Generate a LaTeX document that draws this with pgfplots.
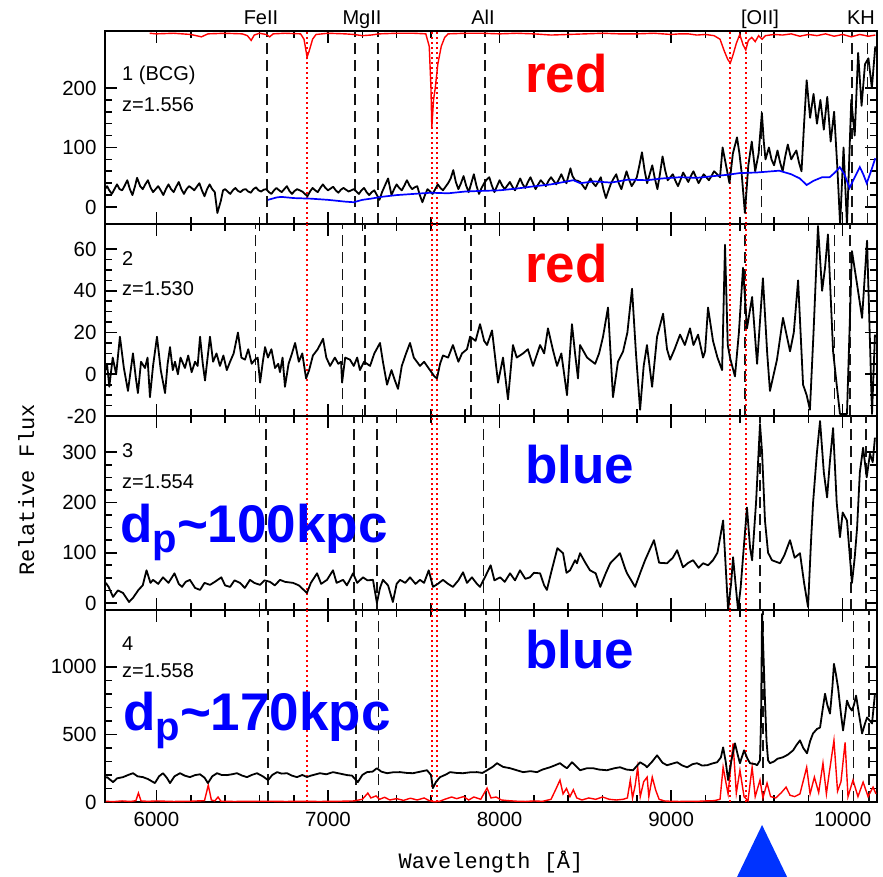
\documentclass[border=0pt]{standalone}
\usepackage{pgfplots}
\pgfplotsset{compat=1.18}
\usepackage{fontspec}
\setmainfont{Liberation Sans}
\newfontfamily\monofont{Liberation Mono}
\definecolor{triblue}{RGB}{0,51,255}
\definecolor{dashgray}{RGB}{20,20,20}
\newcommand{\vl}[4]{\addplot[#1] coordinates {(#2,#3) (#2,#4)};}
\pgfplotsset{
  panel/.style={
    scale only axis, width=772pt,
    xmin=5700, xmax=10200,
    xtick={6000,7000,8000,9000,10000},
    minor x tick num=4,
    major tick length=12pt, minor tick length=7pt,
    tick align=inside,
    every tick/.style={black, line width=1.6pt},
    axis line style={line width=2pt},
    tick label style={font=\fontsize{20.5}{23}\selectfont},
    yticklabel style={xshift=-5pt},
    xticklabel style={yshift=-7pt},
    /pgf/number format/assume math mode=true,
    /pgf/number format/set thousands separator={},
    scaled ticks=false,
    anchor=north west,
  },
  spec/.style={black, line width=1.8pt, no markers, line join=round},
  dsh/.style={dashgray, line width=1.7pt, dash pattern=on 11pt off 6pt},
  dot/.style={red, line width=1.5pt, dash pattern=on 2.5pt off 2.5pt},
}
\begin{document}
\begin{tikzpicture}
\useasboundingbox (0pt,0pt) rectangle (883pt,-876pt);

% ---------------- Panel 1 ----------------
\begin{axis}[panel, at={(105pt,-31pt)}, height=193pt, ymin=-28.6, ymax=295.8,
  ytick={0,100,200}, minor y tick num=4, xticklabels={}]
\vl{dsh}{6646}{-28.6}{295.8}
\vl{dsh}{7157}{-28.6}{295.8}
\vl{dsh}{7290}{-28.6}{295.8}
\vl{dsh}{7913}{-28.6}{295.8}
\vl{dsh}{9526}{-28.6}{295.8}
\vl{dsh}{10055}{-28.6}{295.8}
\vl{dsh}{10145}{-28.6}{295.8}
\vl{dot}{6878}{-28.6}{295.8}
\vl{dot}{7605}{-28.6}{295.8}
\vl{dot}{7635}{-28.6}{295.8}
\vl{dot}{9343}{-28.6}{295.8}
\vl{dot}{9436}{-28.6}{295.8}
\addplot[red, line width=1.4pt, no markers] coordinates {
(5960,292)(6000,291)(6100,292)(6200,290)(6262,286)(6300,291)(6400,292)(6500,291)(6530,288)(6552,280)(6570,289)(6600,292)(6640,290)(6660,286)(6680,291)(6750,292)(6840,291)(6860,282)(6878,252)(6890,262)(6910,282)(6930,290)(7000,292)(7100,291)(7150,290)(7200,288)(7250,289)(7300,291)(7400,292)(7500,292)(7570,291)(7590,270)(7600,200)(7605,134)(7615,180)(7625,200)(7640,240)(7660,270)(7680,285)(7700,291)(7800,292)(7900,292)(8000,291)(8100,292)(8200,291)(8300,289)(8400,290)(8500,291)(8600,292)(8700,291)(8800,291)(8900,292)(9000,290)(9050,291)(9100,291)(9150,289)(9200,290)(9250,288)(9285,282)(9310,262)(9330,248)(9345,242)(9360,255)(9380,275)(9400,290)(9420,272)(9435,264)(9450,280)(9470,285)(9490,278)(9510,288)(9530,282)(9550,288)(9600,290)(9650,289)(9700,291)(9750,287)(9800,290)(9850,288)(9900,291)(9950,287)(10000,290)(10050,286)(10100,290)(10150,287)(10190,289)};
\addplot[spec] coordinates {
(5700,30)(5712,35)(5725,28)(5740,22)(5755,30)(5770,38)(5785,30)(5800,28)(5815,36)(5830,45)(5845,30)(5860,20)(5875,35)(5887,49)(5905,35)(5920,30)(5935,38)(5950,45)(5965,33)(5980,25)(5995,30)(6010,35)(6025,28)(6040,20)(6055,30)(6070,38)(6085,30)(6100,25)(6115,34)(6130,42)(6145,30)(6160,22)(6175,30)(6190,35)(6205,32)(6220,28)(6235,34)(6250,40)(6265,28)(6280,18)(6295,30)(6310,38)(6325,30)(6340,25)(6355,-10)(6375,10)(6388,28)(6400,30)(6415,26)(6430,22)(6445,28)(6460,32)(6475,27)(6490,25)(6505,29)(6520,30)(6535,26)(6550,24)(6565,30)(6580,33)(6595,28)(6610,26)(6625,29)(6640,30)(6655,25)(6670,22)(6685,28)(6700,32)(6715,28)(6730,25)(6745,30)(6760,35)(6775,27)(6790,22)(6805,27)(6820,30)(6835,28)(6850,26)(6865,22)(6880,18)(6895,26)(6910,32)(6925,28)(6940,25)(6955,32)(6970,38)(6985,32)(7000,28)(7015,31)(7030,34)(7045,28)(7060,24)(7075,29)(7090,32)(7105,29)(7120,26)(7135,28)(7150,30)(7165,26)(7180,22)(7195,28)(7210,32)(7225,25)(7240,20)(7255,25)(7270,28)(7285,20)(7300,12)(7315,25)(7330,35)(7350,48)(7370,20)(7385,30)(7400,38)(7415,32)(7430,28)(7445,36)(7460,45)(7475,36)(7490,30)(7505,33)(7520,35)(7535,20)(7550,8)(7565,20)(7580,30)(7595,26)(7610,22)(7625,30)(7640,38)(7655,32)(7670,28)(7685,34)(7700,40)(7715,48)(7730,62)(7745,42)(7760,30)(7775,40)(7790,52)(7805,36)(7820,25)(7835,40)(7850,55)(7865,36)(7880,22)(7895,32)(7910,40)(7925,46)(7940,50)(7955,36)(7970,25)(7985,35)(8000,45)(8015,36)(8030,30)(8045,36)(8060,42)(8075,34)(8090,28)(8105,38)(8120,48)(8135,38)(8150,32)(8165,42)(8180,50)(8195,40)(8210,30)(8225,38)(8240,45)(8255,40)(8270,35)(8285,44)(8300,50)(8315,44)(8330,38)(8345,46)(8360,55)(8375,45)(8390,40)(8413,65)(8425,52)(8440,45)(8455,44)(8470,42)(8485,36)(8500,30)(8515,40)(8530,48)(8545,40)(8560,35)(8575,42)(8590,50)(8605,30)(8620,15)(8635,28)(8650,40)(8665,48)(8680,55)(8695,40)(8710,30)(8725,45)(8740,60)(8755,46)(8770,35)(8785,42)(8800,50)(8815,70)(8830,92)(8845,62)(8860,40)(8875,55)(8890,70)(8905,48)(8920,30)(8935,56)(8950,85)(8965,62)(8980,45)(8995,50)(9010,55)(9025,44)(9040,35)(9055,46)(9070,58)(9085,50)(9100,42)(9115,52)(9130,60)(9145,50)(9160,40)(9175,48)(9190,55)(9205,50)(9220,45)(9235,52)(9250,60)(9268,55)(9285,50)(9300,100)(9320,70)(9340,40)(9360,90)(9384,117)(9398,90)(9410,60)(9430,-10)(9450,70)(9470,110)(9490,60)(9510,90)(9529,158)(9540,110)(9550,80)(9570,100)(9585,80)(9600,70)(9620,95)(9635,75)(9650,60)(9665,85)(9680,105)(9700,80)(9715,88)(9730,95)(9745,75)(9760,60)(9775,140)(9790,213)(9810,150)(9830,190)(9850,140)(9870,180)(9890,130)(9910,185)(9930,110)(9950,160)(9970,60)(9985,-30)(10005,100)(10025,-30)(10050,180)(10070,120)(10090,259)(10110,170)(10130,240)(10150,250)(10170,200)(10190,270)};
\addplot[blue, line width=1.7pt, no markers] coordinates {
(6650,12)(6700,16)(6727,17)(6800,15)(6900,14)(7000,12)(7100,9)(7150,8)(7200,12)(7250,14)(7310,17)(7400,20)(7500,22)(7600,24)(7700,23)(7800,26)(7890,27)(8000,28)(8100,31)(8180,34)(8300,38)(8430,45)(8470,40)(8550,43)(8650,41)(8750,46)(8860,45)(8950,48)(9050,50)(9150,49)(9250,52)(9325,54)(9400,57)(9500,58)(9630,61)(9700,55)(9750,48)(9790,37)(9830,44)(9880,50)(9924,50)(9955,58)(9983,67)(10010,55)(10040,32)(10070,50)(10100,67)(10120,55)(10140,40)(10165,60)(10190,82)};
\end{axis}

% ---------------- Panel 2 ----------------
\begin{axis}[panel, at={(105pt,-224pt)}, height=192pt, ymin=-20, ymax=72,
  ytick={-20,0,20,40,60}, minor y tick num=3, xticklabels={}]
\vl{dsh}{6578}{-20}{72}
\vl{dsh}{7084}{-20}{72}
\vl{dsh}{7216}{-20}{72}
\vl{dsh}{7833}{-20}{72}
\vl{dsh}{9429}{-20}{72}
\vl{dsh}{9953}{-20}{72}
\vl{dsh}{10042}{-20}{72}
\vl{dot}{6878}{-20}{72}
\vl{dot}{7605}{-20}{72}
\vl{dot}{7635}{-20}{72}
\vl{dot}{9343}{-20}{72}
\vl{dot}{9436}{-20}{72}
\addplot[spec] coordinates {
(5705,2)(5712,5)(5725,-6)(5745,8)(5765,0)(5787,18)(5810,3)(5834,-8)(5850,2)(5863,10)(5880,-2)(5892,-9)(5910,6)(5933,3)(5948,8)(5962,-11)(5980,4)(6003,18)(6025,2)(6050,-9)(6065,5)(6079,13)(6095,2)(6108,6)(6125,0)(6140,8)(6166,3)(6185,9)(6205,1)(6225,6)(6240,4)(6254,18)(6270,5)(6283,-3)(6298,8)(6312,18)(6330,6)(6350,10)(6370,4)(6390,9)(6410,2)(6429,6)(6450,10)(6475,20)(6495,8)(6516,7)(6535,12)(6555,5)(6574,7)(6590,8)(6604,-4)(6620,6)(6633,13)(6650,8)(6670,12)(6691,3)(6710,5)(6720,1)(6735,8)(6749,-6)(6770,5)(6790,10)(6808,15)(6830,6)(6850,10)(6872,-2)(6890,2)(6912,9)(6940,12)(6971,17)(6990,8)(7012,4)(7040,8)(7060,5)(7076,6)(7082,-4)(7100,8)(7128,7)(7150,4)(7170,8)(7186,2)(7210,6)(7245,4)(7270,10)(7303,15)(7320,6)(7344,-5)(7370,2)(7390,-3)(7408,-7)(7430,4)(7455,10)(7478,15)(7500,8)(7536,4)(7560,6)(7594,2)(7620,-1)(7635,-2)(7653,5)(7670,9)(7700,8)(7728,14)(7760,6)(7781,10)(7810,12)(7828,18)(7860,16)(7886,24)(7910,16)(7927,14)(7956,21)(7991,-4)(8020,8)(8049,-12)(8078,14)(8100,8)(8137,10)(8165,12)(8195,4)(8236,14)(8260,10)(8282,22)(8310,12)(8335,4)(8360,10)(8393,-10)(8422,24)(8440,10)(8457,-2)(8469,14)(8510,8)(8557,5)(8580,10)(8603,18)(8632,32)(8661,-11)(8690,6)(8720,11)(8745,20)(8772,41)(8795,10)(8819,-17)(8840,4)(8859,14)(8889,-6)(8918,18)(8953,29)(8976,12)(8994,7)(9020,12)(9052,19)(9080,14)(9110,22)(9130,14)(9157,19)(9186,8)(9198,11)(9215,32)(9244,16)(9270,8)(9297,2)(9314,62)(9330,14)(9343,8)(9372,-1)(9395,20)(9419,51)(9442,22)(9472,37)(9501,5)(9535,46)(9560,10)(9576,-8)(9617,7)(9652,27)(9693,11)(9715,20)(9740,45)(9769,-5)(9790,-10)(9809,-17)(9830,20)(9856,71)(9880,40)(9897,51)(9914,67)(9944,11)(9965,-5)(9984,-19)(10025,-19)(10054,59)(10084,43)(10113,27)(10142,64)(10171,-19)(10188,19)};
\end{axis}

% ---------------- Panel 3 ----------------
\begin{axis}[panel, at={(105pt,-416pt)}, height=194pt, ymin=-14, ymax=372,
  ytick={0,100,200,300}, minor y tick num=3, xticklabels={}]
\vl{dsh}{6640}{-14}{372}
\vl{dsh}{7151}{-14}{372}
\vl{dsh}{7284}{-14}{372}
\vl{dsh}{7907}{-14}{372}
\vl{dsh}{9519}{-14}{372}
\vl{dsh}{10047}{-14}{372}
\vl{dsh}{10137}{-14}{372}
\vl{dot}{6878}{-14}{372}
\vl{dot}{7605}{-14}{372}
\vl{dot}{7635}{-14}{372}
\vl{dot}{9343}{-14}{372}
\vl{dot}{9436}{-14}{372}
\addplot[spec] coordinates {
(5705,40)(5721,32)(5747,12)(5775,25)(5805,20)(5840,2)(5863,10)(5895,26)(5920,35)(5942,65)(5965,40)(5980,46)(6010,38)(6038,51)(6070,40)(6105,59)(6130,38)(6149,32)(6170,42)(6195,46)(6225,30)(6254,26)(6280,40)(6312,36)(6340,42)(6378,51)(6400,35)(6429,32)(6455,45)(6487,40)(6515,30)(6545,46)(6570,40)(6604,36)(6630,45)(6662,42)(6690,35)(6720,46)(6750,42)(6796,40)(6830,35)(6877,20)(6900,40)(6936,59)(6960,38)(6994,46)(7029,65)(7050,40)(7088,46)(7110,35)(7146,59)(7170,40)(7204,51)(7230,45)(7262,46)(7285,0)(7303,30)(7320,46)(7350,35)(7378,2)(7400,38)(7420,46)(7450,40)(7478,51)(7510,38)(7536,46)(7560,40)(7587,65)(7612,32)(7640,38)(7670,46)(7700,38)(7728,32)(7760,45)(7787,61)(7810,40)(7839,51)(7868,38)(7886,32)(7920,55)(7948,75)(7970,45)(8003,51)(8030,42)(8061,59)(8090,45)(8119,65)(8150,48)(8177,51)(8200,60)(8236,59)(8260,35)(8276,26)(8300,60)(8337,109)(8370,99)(8390,60)(8411,65)(8440,85)(8451,79)(8469,99)(8500,80)(8527,65)(8560,59)(8587,32)(8620,60)(8645,79)(8702,99)(8730,70)(8743,59)(8790,32)(8820,60)(8848,85)(8900,125)(8930,80)(8976,79)(9010,90)(9035,105)(9060,80)(9069,71)(9100,80)(9128,85)(9160,70)(9186,79)(9215,75)(9244,85)(9270,100)(9303,164)(9320,60)(9332,-14)(9350,40)(9361,91)(9375,40)(9390,-14)(9405,30)(9419,91)(9442,190)(9460,110)(9472,85)(9495,200)(9518,356)(9530,300)(9547,164)(9565,100)(9588,85)(9635,79)(9660,95)(9693,125)(9720,90)(9751,99)(9775,40)(9798,-8)(9815,120)(9827,198)(9850,300)(9868,362)(9890,260)(9909,210)(9925,280)(9944,348)(9965,200)(9984,131)(10000,180)(10025,164)(10040,100)(10054,40)(10070,90)(10084,150)(10100,260)(10119,309)(10140,250)(10159,297)(10175,280)(10188,329)};
\end{axis}

% ---------------- Panel 4 ----------------
\begin{axis}[panel, at={(105pt,-610pt)}, height=192pt, ymin=0, ymax=1420,
  ytick={0,500,1000}, minor y tick num=4]
\vl{dsh}{6651}{0}{1420}
\vl{dsh}{7162}{0}{1420}
\vl{dsh}{7295}{0}{1420}
\vl{dsh}{7920}{0}{1420}
\vl{dsh}{9534}{0}{1420}
\vl{dsh}{10063}{0}{1420}
\vl{dsh}{10153}{0}{1420}
\vl{dot}{6878}{0}{1420}
\vl{dot}{7605}{0}{1420}
\vl{dot}{7635}{0}{1420}
\vl{dot}{9343}{0}{1420}
\vl{dot}{9436}{0}{1420}
\addplot[red, line width=1.4pt, no markers] coordinates {
(5705,5)(5750,3)(5800,8)(5850,4)(5880,10)(5895,66)(5910,8)(5950,5)(6000,8)(6100,4)(6200,6)(6280,10)(6302,125)(6320,15)(6340,8)(6359,37)(6375,6)(6450,4)(6550,5)(6650,6)(6750,4)(6850,5)(6950,4)(7050,5)(7150,8)(7200,20)(7232,66)(7250,30)(7280,45)(7300,20)(7330,35)(7360,15)(7400,25)(7440,12)(7480,28)(7520,15)(7560,30)(7590,10)(7620,2)(7650,5)(7680,20)(7720,37)(7750,25)(7790,40)(7820,15)(7850,37)(7890,20)(7927,103)(7950,30)(7980,37)(8010,15)(8050,10)(8100,6)(8150,4)(8200,8)(8250,5)(8300,20)(8330,100)(8352,162)(8370,60)(8390,100)(8410,40)(8430,90)(8450,30)(8480,15)(8520,30)(8560,20)(8600,37)(8640,20)(8680,15)(8720,20)(8745,30)(8762,162)(8775,30)(8790,120)(8805,257)(8820,40)(8840,150)(8860,184)(8870,40)(8890,184)(8910,88)(8930,20)(8960,8)(9000,5)(9050,4)(9100,6)(9150,5)(9200,8)(9250,10)(9285,20)(9303,257)(9320,140)(9332,60)(9361,434)(9380,66)(9401,235)(9425,40)(9448,10)(9472,257)(9490,40)(9518,162)(9535,30)(9559,140)(9580,40)(9610,30)(9640,66)(9670,110)(9693,50)(9720,40)(9751,60)(9790,257)(9810,60)(9835,184)(9860,70)(9885,287)(9905,60)(9920,200)(9949,456)(9970,80)(9990,150)(10014,441)(10031,40)(10060,162)(10089,40)(10119,147)(10148,40)(10177,110)(10194,60)};
\addplot[spec] coordinates {
(5705,180)(5712,184)(5747,147)(5770,175)(5805,184)(5835,200)(5863,213)(5890,190)(5921,184)(5950,170)(5991,140)(6015,190)(6038,213)(6060,180)(6079,140)(6105,190)(6137,213)(6165,195)(6195,184)(6225,199)(6254,205)(6280,180)(6300,140)(6325,190)(6353,213)(6380,200)(6411,199)(6440,205)(6469,213)(6500,195)(6528,184)(6555,200)(6586,213)(6620,190)(6651,162)(6675,200)(6703,221)(6730,210)(6761,213)(6790,195)(6819,184)(6850,200)(6877,185)(6900,195)(6953,213)(6990,205)(7029,221)(7070,210)(7111,199)(7140,195)(7174,147)(7200,200)(7227,221)(7260,225)(7285,250)(7310,225)(7344,213)(7380,220)(7420,221)(7460,215)(7495,213)(7540,225)(7577,235)(7600,200)(7611,103)(7630,150)(7653,184)(7690,205)(7711,221)(7750,215)(7787,213)(7830,220)(7868,221)(7900,215)(7927,235)(7960,260)(7985,287)(8020,260)(8061,250)(8100,235)(8137,221)(8180,228)(8218,221)(8250,240)(8294,257)(8320,270)(8352,287)(8380,260)(8393,250)(8422,294)(8450,260)(8469,235)(8510,250)(8545,250)(8580,240)(8626,235)(8670,250)(8702,257)(8740,240)(8778,235)(8819,294)(8850,270)(8859,257)(8890,300)(8918,345)(8950,290)(8976,272)(9010,285)(9035,294)(9065,270)(9093,257)(9125,280)(9151,287)(9180,270)(9210,272)(9240,285)(9268,294)(9290,330)(9303,404)(9318,300)(9332,162)(9350,300)(9372,434)(9390,340)(9401,287)(9425,382)(9445,320)(9460,287)(9490,280)(9501,272)(9518,309)(9524,600)(9530,1390)(9538,1100)(9547,750)(9556,450)(9565,309)(9576,287)(9600,300)(9620,320)(9652,331)(9680,350)(9711,382)(9730,420)(9751,456)(9770,400)(9792,360)(9810,450)(9827,507)(9850,540)(9868,551)(9885,700)(9897,801)(9910,720)(9926,654)(9940,850)(9949,1022)(9960,950)(9973,846)(9990,650)(10002,529)(10015,650)(10025,750)(10040,700)(10054,676)(10066,720)(10078,787)(10095,650)(10113,507)(10130,580)(10142,625)(10159,600)(10171,581)(10188,801)};
\end{axis}

% ---------------- Triangle marker ----------------
\begin{axis}[panel, at={(105pt,-610pt)}, height=192pt, ymin=0, ymax=1420,
  hide axis, clip=false]
\addplot[fill=triblue, draw=none] coordinates {(9382,-560) (9678,-560) (9530,-170)} -- cycle;
\end{axis}

% ---------------- Texts ----------------
\begin{scope}[every node/.style={inner sep=0pt, font=\fontsize{20}{23}\selectfont}]
\node[anchor=base] at (261pt,-24pt) {FeII};
\node[anchor=base] at (362pt,-24pt) {MgII};
\node[anchor=base] at (483pt,-24pt) {AlI};
\node[anchor=base] at (760pt,-24pt) {[OII]};
\node[anchor=base] at (861pt,-24pt) {KH};
\node[anchor=base west] at (122pt,-80pt) {1 (BCG)};
\node[anchor=base west] at (122pt,-111pt) {z=1.556};
\node[anchor=base west] at (122pt,-265pt) {2};
\node[anchor=base west] at (122pt,-295pt) {z=1.530};
\node[anchor=base west] at (122pt,-457pt) {3};
\node[anchor=base west] at (122pt,-488pt) {z=1.554};
\node[anchor=base west] at (122pt,-650pt) {4};
\node[anchor=base west] at (122pt,-677pt) {z=1.558};
\end{scope}
\begin{scope}[every node/.style={inner sep=0pt, font=\fontsize{53}{60}\selectfont\bfseries}]
\node[anchor=base west, text=red] at (525pt,-92pt) {red};
\node[anchor=base west, text=red] at (525pt,-282pt) {red};
\node[anchor=base west, text=blue] at (525pt,-483pt) {blue};
\node[anchor=base west, text=blue] at (525pt,-668pt) {blue};
\node[anchor=base west, text=blue] at (120pt,-542pt) {d{\fontsize{40}{40}\selectfont\raisebox{-10pt}{p}}\textasciitilde100kpc};
\node[anchor=base west, text=blue] at (123pt,-730pt) {d{\fontsize{40}{40}\selectfont\raisebox{-10pt}{p}}\textasciitilde170kpc};
\end{scope}
\node[anchor=base, inner sep=0pt, font=\monofont\fontsize{22}{24}\selectfont] at (491pt,-868pt) {Wavelength [Å]};
\node[anchor=base, rotate=90, inner sep=0pt, font=\monofont\fontsize{22}{24}\selectfont] at (34pt,-490pt) {Relative Flux};
\end{tikzpicture}
\end{document}
